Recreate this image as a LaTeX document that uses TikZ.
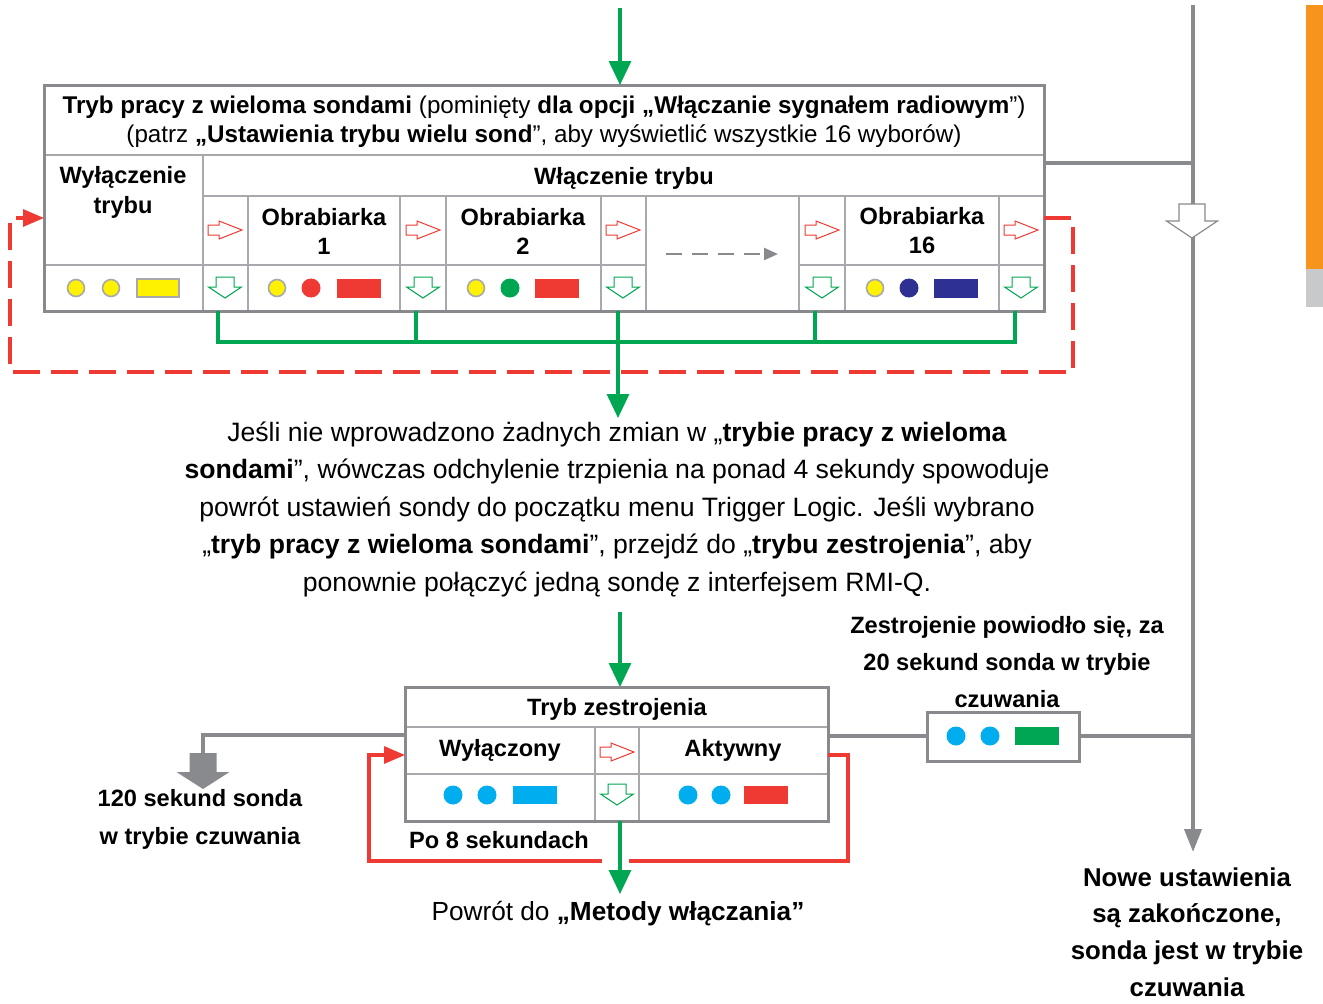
\documentclass[tikz,border=0pt]{standalone}
\usepackage{fontspec}
\setmainfont{Liberation Sans}
\usetikzlibrary{arrows.meta}
\usetikzlibrary{calc}

\definecolor{lineGray}{HTML}{898A8D}
\definecolor{cellGray}{HTML}{A7A9AC}
\definecolor{flowGreen}{HTML}{00A651}
\definecolor{backRed}{HTML}{EE3A32}
\definecolor{ledYellow}{HTML}{FFF200}
\definecolor{ledBlue}{HTML}{00AEEF}
\definecolor{ledNavy}{HTML}{2E3192}
\definecolor{barOrange}{HTML}{F7941E}
\definecolor{barGray}{HTML}{C8C9CB}

\tikzset{
  frame/.style={draw=lineGray, line width=1.5pt},
  cell/.style={draw=cellGray, line width=0.7pt},
  flow/.style={draw=flowGreen, line width=1.6pt},
  back/.style={draw=backRed, line width=1.6pt},
  link/.style={draw=lineGray, line width=2pt},
  ring/.style={draw=cellGray, line width=0.8pt},
  lbl/.style={font=\fontsize{11.8}{14.5}\selectfont, align=center, inner sep=0pt},
  rarr/.pic={\draw[backRed, line width=0.5pt, fill=white]
    (-17,-5) -- (-6,-5) -- (-6,-9) -- (17,0) -- (-6,9) -- (-6,5) -- (-17,5) -- cycle;},
  garr/.pic={\draw[flowGreen, line width=0.5pt, fill=white]
    (-9,-11) -- (9,-11) -- (9,-1) -- (16.5,-1) -- (0,10) -- (-16.5,-1) -- (-9,-1) -- cycle;},
  warr/.pic={\draw[lineGray, line width=0.6pt, fill=white]
    (-13,-17) -- (13,-17) -- (13,0) -- (25.5,0) -- (0,17) -- (-25.5,0) -- (-13,0) -- cycle;},
  farr/.pic={\fill[lineGray]
    (-13.5,-18) -- (13.5,-18) -- (13.5,1) -- (26.5,1) -- (0,18) -- (-26.5,1) -- (-13.5,1) -- cycle;}
}

\begin{document}
\begin{tikzpicture}[x=0.5pt, y=-0.5pt, >={Triangle[width=11pt,length=12pt]}]
    \useasboundingbox (0,0) rectangle (1323,1003);

    % pasek po prawej
    \fill[barOrange] (1306,5) rectangle (1323,269);
    \fill[barGray] (1306,269) rectangle (1323,307);

    % punkty do polaczen
    \coordinate (start) at (620,8);
    \coordinate (multiTop) at (620,85);
    \coordinate (busOut) at (618,311);
    \coordinate (busEnd) at (618,418);
    \coordinate (noteOut) at (620,612);
    \coordinate (pairTop) at (620,687);
    \coordinate (pairOut) at (620,821);
    \coordinate (pairEnd) at (620,894);
    \coordinate (railTop) at (1193,5);
    \coordinate (railEnd) at (1193,852);
    \coordinate (multiRight) at (1044,163);
    \coordinate (railMid) at (1193,163);

    % tabela: tryb wielu sond
    \draw[cell] (44,155) -- (1044,155);
    \draw[cell] (203,155) -- (203,311);
    \draw[cell] (203,196) -- (1044,196);
    \draw[cell] (44,265) -- (646,265);
    \draw[cell] (799,265) -- (1044,265);
    \draw[cell] (248,196) -- (248,311);
    \draw[cell] (400,196) -- (400,311);
    \draw[cell] (446,196) -- (446,311);
    \draw[cell] (601,196) -- (601,311);
    \draw[cell] (646,196) -- (646,311);
    \draw[cell] (799,196) -- (799,311);
    \draw[cell] (845,196) -- (845,311);
    \draw[cell] (999,196) -- (999,311);
    \draw[frame] (44,85) rectangle (1044,311);

    \node[lbl, font=\fontsize{12.1}{14.5}\selectfont] (multiHead) at (544,122) {\textbf{Tryb pracy z wieloma sondami} (pominięty \textbf{dla opcji „Włączanie sygnałem radiowym}”)\\(patrz \textbf{„Ustawienia trybu wielu sond}”, aby wyświetlić wszystkie 16 wyborów)};
    \node[lbl, font=\bfseries\fontsize{11.8}{15}\selectfont] (offHead) at (123,192) {Wyłączenie\\trybu};
    \node[lbl, font=\bfseries\fontsize{11.8}{14.5}\selectfont] (onHead) at (624,178) {Włączenie trybu};
    \node[lbl, font=\bfseries\fontsize{11.8}{14.5}\selectfont] (mach1) at (324,231) {Obrabiarka\\1};
    \node[lbl, font=\bfseries\fontsize{11.8}{14.5}\selectfont] (mach2) at (523,231) {Obrabiarka\\2};
    \node[lbl, font=\bfseries\fontsize{11.8}{14.5}\selectfont] (mach16) at (922,231) {Obrabiarka\\16};

    % strzalki w komorkach
    \pic at (225,230) {rarr};
    \pic at (423,230) {rarr};
    \pic at (623,230) {rarr};
    \pic at (822,230) {rarr};
    \pic at (1021,230) {rarr};
    \pic at (225,288) {garr};
    \pic at (423,288) {garr};
    \pic at (623,288) {garr};
    \pic at (822,288) {garr};
    \pic at (1021,288) {garr};
    \draw[lineGray, line width=1.2pt, dash pattern=on 8pt off 5pt, -{Triangle[width=6pt,length=7pt]}] (666,254) -- (778,254);

    % diody
    \fill[ledYellow, ring] (76,288) circle (8.5);
    \fill[ledYellow, ring] (111,288) circle (8.5);
    \fill[ledYellow, ring] (137,279) rectangle (179,297);
    \fill[ledYellow, ring] (277,288) circle (8.5);
    \fill[backRed] (311,288) circle (9.5);
    \fill[backRed] (337,279) rectangle (381,298);
    \fill[ledYellow, ring] (476,288) circle (8.5);
    \fill[flowGreen] (510,288) circle (9.5);
    \fill[backRed] (535,279) rectangle (579,298);
    \fill[ledYellow, ring] (875,288) circle (8.5);
    \fill[ledNavy] (909,288) circle (9.5);
    \fill[ledNavy] (934,279) rectangle (978,298);

    % wejscie i zbieranie wyborow
    \draw[flow, ->] (start) -- (multiTop);
    \draw[flow] (218,311) -- (218,342) -- (1015,342) -- (1015,311);
    \draw[flow] (416,311) -- (416,342);
    \draw[flow] (815,311) -- (815,342);
    \draw[flow, ->] (busOut) -- (busEnd);

    % powrot przerywany
    \draw[back, dash pattern=on 13.5pt off 5.5pt, -{Triangle[width=8.5pt,length=10.5pt]}]
      (1044,218) -- (1073,218) -- (1073,372) -- (10,372) -- (10,218) -- (44,218);

    % szyna po prawej
    \draw[link, -{Triangle[width=8.5pt,length=11.5pt]}] (railTop) -- (railEnd);
    \draw[link] (multiRight) -- (railMid);
    \pic at (1192,221) {warr};

    % opis
    \node[lbl, font=\fontsize{13.3}{18.75}\selectfont] (note) at (617,509)
      {Jeśli nie wprowadzono żadnych zmian w „\textbf{trybie pracy z wieloma}\\
       \textbf{sondami}”, wówczas odchylenie trzpienia na ponad 4 sekundy spowoduje\\
       powrót ustawień sondy do początku menu Trigger Logic. Jeśli wybrano\\
       „\textbf{tryb pracy z wieloma sondami}”, przejdź do „\textbf{trybu zestrojenia}”, aby\\
       ponownie połączyć jedną sondę z interfejsem RMI-Q.};

    \draw[flow, ->] (noteOut) -- (pairTop);

    % tabela: tryb zestrojenia
    \draw[cell] (405,727) -- (828,727);
    \draw[cell] (405,774) -- (828,774);
    \draw[cell] (595,727) -- (595,821);
    \draw[cell] (639,727) -- (639,821);
    \draw[frame] (405,687) rectangle (828,821);

    \node[lbl, font=\bfseries\fontsize{11.8}{14.5}\selectfont] (pairHead) at (617,709) {Tryb zestrojenia};
    \node[lbl, font=\bfseries\fontsize{11.8}{14.5}\selectfont] (pairOff) at (500,750) {Wyłączony};
    \node[lbl, font=\bfseries\fontsize{11.8}{14.5}\selectfont] (pairOn) at (733,750) {Aktywny};
    \pic at (617,752) {rarr};
    \pic at (617,795) {garr};

    \fill[ledBlue] (453,795) circle (9.5);
    \fill[ledBlue] (487,795) circle (9.5);
    \fill[ledBlue] (513,786) rectangle (557,804);
    \fill[ledBlue] (688,795) circle (9.5);
    \fill[ledBlue] (721,795) circle (9.5);
    \fill[backRed] (744,786) rectangle (788,804);

    % petla po 8 sekundach
    \draw[back] (828,755) -- (848,755) -- (848,861) -- (629,861);
    \draw[back, -{Triangle[width=8.5pt,length=10.5pt]}] (602,861) -- (369,861) -- (369,755) -- (405,755);
    \node[lbl, font=\bfseries\fontsize{11.8}{14.5}\selectfont] (after8) at (499,840) {Po 8 sekundach};

    \draw[flow, ->] (pairOut) -- (pairEnd);
    \node[lbl, font=\fontsize{13.1}{15}\selectfont] (backTo) at (618,914) {Powrót do \textbf{„Metody włączania”}};

    % czuwanie po 120 s
    \draw[link] (405,735) -- (203,735) -- (203,755);
    \pic at (203,771) {farr};
    \node[lbl, font=\bfseries\fontsize{11.8}{19}\selectfont] (idle120) at (200,819) {120 sekund sonda\\w trybie czuwania};

    % zestrojenie udane
    \draw[link] (828,736) -- (927,736);
    \draw[link] (1079,736) -- (1193,736);
    \draw[frame] (927,712) rectangle (1079,761);
    \fill[ledBlue] (956,736) circle (9.5);
    \fill[ledBlue] (990,736) circle (9.5);
    \fill[flowGreen] (1015,727) rectangle (1059,745);
    \node[lbl, font=\bfseries\fontsize{11.8}{18.5}\selectfont] (pairOk) at (1007,662) {Zestrojenie powiodło się, za\\20 sekund sonda w trybie\\czuwania};

    \node[lbl, font=\bfseries\fontsize{12.9}{18.3}\selectfont] (done) at (1187,932) {Nowe ustawienia\\są zakończone,\\sonda jest w trybie\\czuwania};
\end{tikzpicture}
\end{document}
